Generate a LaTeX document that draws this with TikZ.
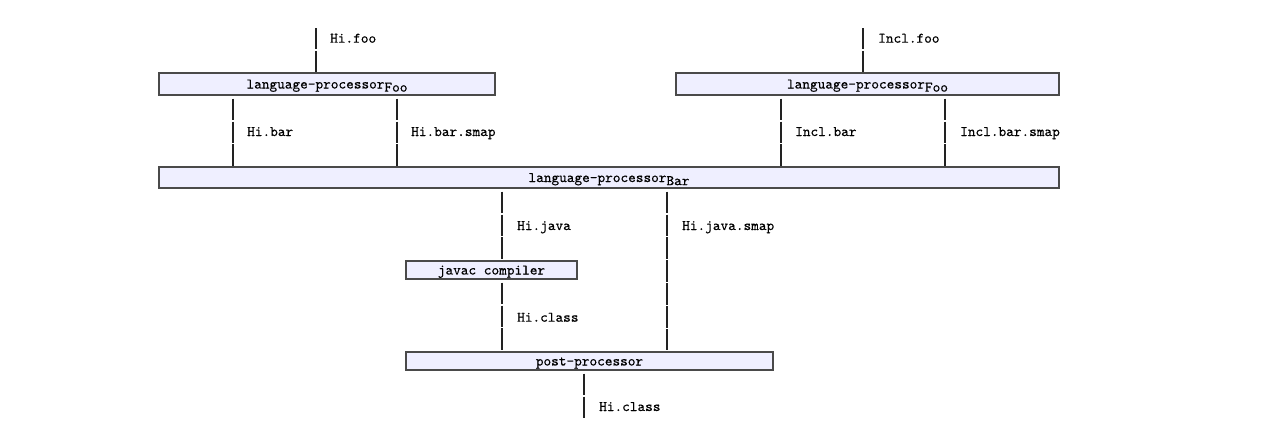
\documentclass[tikz,border=0pt]{standalone}
\usepackage{fontspec}
\newfontfamily\courlike[RawFeature={embolden=0.35}]{lmmono10-regular.otf}
\usetikzlibrary{calc}
\definecolor{boxfill}{HTML}{EFEFFF}
\definecolor{boxline}{HTML}{4A4A4A}
\definecolor{flowline}{HTML}{222222}
\newcommand\psub[1]{\raisebox{-0.5ex}{#1}}
\begin{document}
\begin{tikzpicture}[x=1pt,y=-1pt,
  proc/.style={draw=boxline,fill=boxfill,line width=1.7pt,inner sep=0pt,
    text height=11pt,text depth=2pt,
    font=\courlike\fontsize{14.6}{16}\selectfont},
  lbl/.style={anchor=base west,inner sep=0pt,font=\courlike\fontsize{14.6}{16}\selectfont},
  flow/.style={line width=1.1pt,draw=flowline,dash pattern=on 21.4pt off 1.5pt}]
\useasboundingbox (0,0) rectangle (1273,426);
\fill[white] (0,0) rectangle (1273,426);

% boxes
\node[proc,minimum width=336pt,minimum height=22.5pt] (foo1) at (327,84) {language-processor\psub{Foo}};
\node[proc,minimum width=383pt,minimum height=22.5pt] (foo2) at (867.5,84) {language-processor\psub{Foo}};
\node[proc,minimum width=900pt,minimum height=21.5pt] (bar) at (609,177.5) {language-processor\psub{Bar}};
\node[proc,minimum width=171pt,minimum height=18.5pt] (javac) at (491.5,270) {javac compiler};
\node[proc,minimum width=367pt,minimum height=18.5pt] (post) at (589.5,361) {post-processor};

% x positions and free ends
\coordinate (hifooTop) at (316,28);
\coordinate (inclfooTop) at (863,28);
\coordinate (xhb) at (233,0);
\coordinate (xhbs) at (397,0);
\coordinate (xib) at (781,0);
\coordinate (xibs) at (945,0);
\coordinate (xhj) at (502,0);
\coordinate (xhjs) at (667,0);
\coordinate (outEnd) at (584,418.5);

% connectors (a small gap below each box, as in the reference)
\draw[flow] (hifooTop) -- (hifooTop |- foo1.north);
\draw[flow] (inclfooTop) -- (inclfooTop |- foo2.north);
\draw[flow] ($(foo1.south -| xhb)+(0,2.5)$) -- (bar.north -| xhb);
\draw[flow] ($(foo1.south -| xhbs)+(0,2.5)$) -- (bar.north -| xhbs);
\draw[flow] ($(foo2.south -| xib)+(0,2.5)$) -- (bar.north -| xib);
\draw[flow] ($(foo2.south -| xibs)+(0,2.5)$) -- (bar.north -| xibs);
\draw[flow] ($(bar.south -| xhj)+(0,2.5)$) -- (javac.north -| xhj);
\draw[flow] ($(bar.south -| xhjs)+(0,2.5)$) -- (post.north -| xhjs);
\draw[flow] ($(javac.south -| xhj)+(0,2.5)$) -- (post.north -| xhj);
\draw[flow] ($(post.south -| outEnd)+(0,2.5)$) -- (outEnd);

% labels
\node[lbl] (lhifoo) at (330,42.7) {Hi.foo};
\node[lbl] (linclfoo) at (878,42.7) {Incl.foo};
\node[lbl] (lhibar) at (247,136) {Hi.bar};
\node[lbl] (lhibarsmap) at (411,136) {Hi.bar.smap};
\node[lbl] (linclbar) at (795,136) {Incl.bar};
\node[lbl] (linclbarsmap) at (960,136) {Incl.bar.smap};
\node[lbl] (lhijava) at (517,230) {Hi.java};
\node[lbl] (lhijavasmap) at (682,230) {Hi.java.smap};
\node[lbl] (lhiclass) at (517,321.7) {Hi.class};
\node[lbl] (lhiclassout) at (599,411) {Hi.class};
\end{tikzpicture}
\end{document}
